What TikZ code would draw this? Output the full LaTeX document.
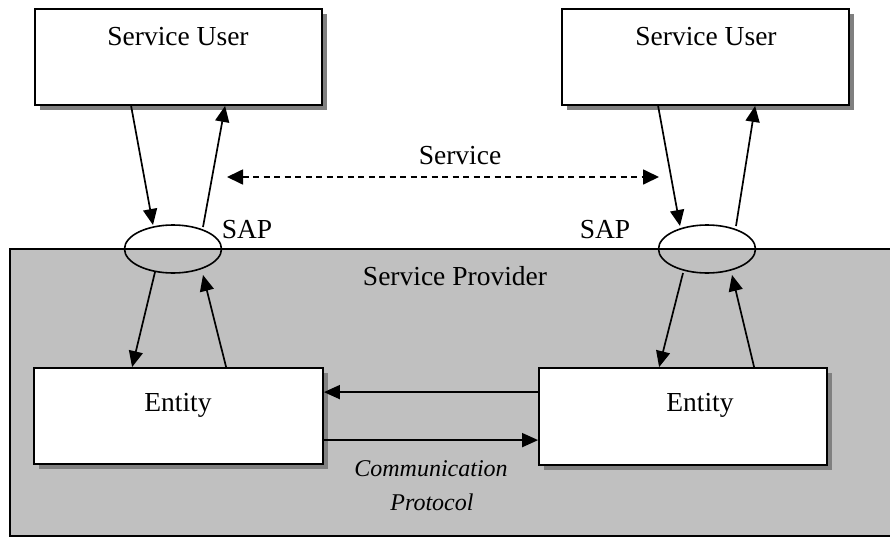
\documentclass[tikz,border=0pt]{standalone}
\usepackage{fontspec}
\setmainfont{Liberation Serif}
\usetikzlibrary{arrows.meta,calc,shapes.geometric,shadows}
\definecolor{provgray}{RGB}{192,192,192}
\definecolor{shadowgray}{RGB}{128,128,128}
\begin{document}
\begin{tikzpicture}[x=1pt,y=-1pt,
  box/.style={draw,line width=1.8pt,fill=white,rectangle,inner sep=0pt,
    general shadow={fill=shadowgray,shadow xshift=5pt,shadow yshift=-5pt}},
  sap/.style={draw,line width=1.6pt,ellipse,inner sep=0pt,minimum width=97pt,minimum height=48pt},
  lbl/.style={anchor=base,inner sep=0pt,font=\fontsize{27.5}{32}\selectfont},
  ilbl/.style={anchor=base,inner sep=0pt,font=\fontsize{24}{28}\selectfont\itshape},
  arr/.style={line width=1.7pt,-{Triangle[length=16pt,width=14pt]}},
  darr/.style={line width=1.7pt,dash pattern=on 6pt off 4.5pt,{Triangle[length=16pt,width=15pt]}-{Triangle[length=16pt,width=15pt]}}]
\useasboundingbox (0,0) rectangle (890,538);
% service provider area
\fill[provgray] (10,249) rectangle (900,536);
\draw[line width=1.6pt] (900,249) -- (10,249) -- (10,536) -- (900,536);
% boxes
\node[box,minimum width=287pt,minimum height=96pt] (su1) at (178.5,57) {};
\node[box,minimum width=287pt,minimum height=96pt] (su2) at (705.5,57) {};
\node[box,minimum width=289pt,minimum height=96pt] (e1) at (178.5,416) {};
\node[box,minimum width=288pt,minimum height=97pt] (e2) at (683,416.5) {};
% SAP ellipses
\node[sap] (sap1) at (173,249) {};
\node[sap] (sap2) at (707,249) {};
% texts
\node[lbl] (t1) at (178,45) {Service User};
\node[lbl] (t2) at (706,45) {Service User};
\node[lbl] (t3) at (178,411) {Entity};
\node[lbl] (t4) at (700,411) {Entity};
\node[lbl] (t5) at (247,238) {SAP};
\node[lbl] (t6) at (605,238) {SAP};
\node[lbl] (t7) at (455,285) {Service Provider};
\node[lbl] (t8) at (460,164) {Service};
\node[ilbl] (t9) at (431,476) {Communication};
\node[ilbl] (t10) at (432,510) {Protocol};
% service dashed arrow
\coordinate (svcL) at (227,177);
\coordinate (svcR) at (659,177);
\draw[darr] (svcL) -- (svcR);
% left column arrows
\draw[arr] ($(su1.south west)+(97,0)$) -- ($(sap1.center)+(-20,-24)$);
\draw[arr] ($(sap1.center)+(30,-22)$) -- ($(su1.south west)+(191,0)$);
\draw[arr] ($(sap1.center)+(-18,23)$) -- ($(e1.north west)+(99,0)$);
\draw[arr] ($(e1.north west)+(193,0)$) -- ($(sap1.center)+(30,26)$);
% right column arrows
\draw[arr] ($(su2.south west)+(97,0)$) -- ($(sap2.center)+(-27,-23)$);
\draw[arr] ($(sap2.center)+(29,-23)$) -- ($(su2.south west)+(194,0)$);
\draw[arr] ($(sap2.center)+(-24,24)$) -- ($(e2.north west)+(121,0)$);
\draw[arr] ($(e2.north west)+(216,0)$) -- ($(sap2.center)+(25,26)$);
% entity protocol arrows
\draw[arr] ($(e2.north west)+(0,25)$) -- ($(e1.north east)+(0,25)$);
\draw[arr] ($(e1.north east)+(0,73)$) -- ($(e2.north west)+(0,73)$);
\end{tikzpicture}
\end{document}
